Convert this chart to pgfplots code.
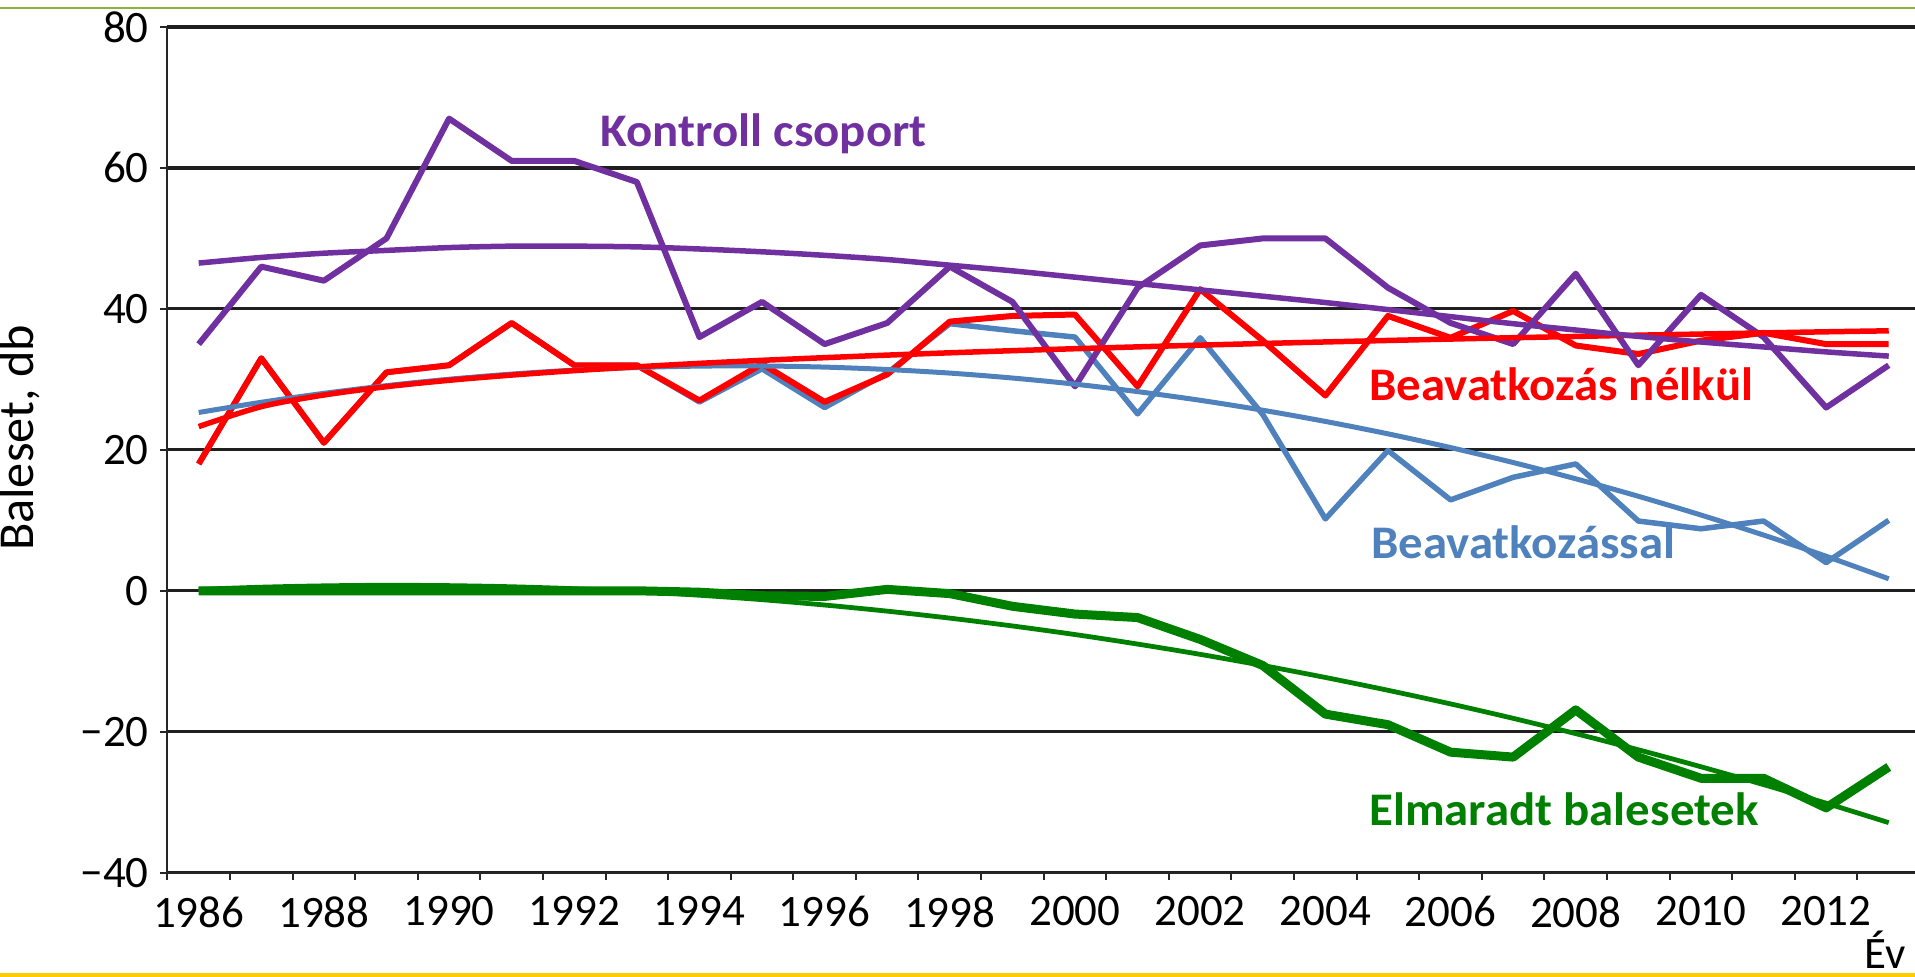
\documentclass[border=0pt]{standalone}
\usepackage{fontspec}
\setmainfont{Carlito}
\newfontfamily\labfont{Carlito}[FakeStretch=1.045]
\usepackage{pgfplots}
\usepackage{pgfplotstable}
\pgfplotsset{compat=1.18}
\definecolor{cpurple}{HTML}{7030A0}
\definecolor{cred}{HTML}{FF0000}
\definecolor{cblue}{HTML}{4F81BD}
\definecolor{cgreen}{HTML}{008000}
\definecolor{topgreen}{RGB}{141,180,58}
\definecolor{botyellow}{RGB}{255,204,0}

\pgfplotstableread{
year kontroll nelkul vele elmaradt
1986 35 18 18 0
1987 46 33 33 0
1988 44 21 21 0
1989 50 31 31 0
1990 67 32 32 0
1991 61 38 38 0
1992 61 32 32 0
1993 58 32 32 0
1994 36 27 26.8 -0.2
1995 41 32.2 31.5 -0.7
1996 35 26.8 26.0 -0.8
1997 38 30.7 30.9 0.2
1998 46 38.2 37.9 -0.4
1999 41 39.0 36.9 -2.2
2000 29 39.2 36.0 -3.3
2001 43 29.0 25.1 -3.8
2002 49 42.8 35.9 -6.9
2003 50 35.5 25.0 -10.6
2004 50 27.7 10.2 -17.5
2005 43 39.0 19.9 -19.0
2006 38 35.9 12.9 -22.9
2007 35 39.7 16.1 -23.6
2008 45 34.8 18.0 -16.9
2009 32 33.6 9.9 -23.6
2010 42 35.5 8.8 -26.6
2011 36 36.6 9.9 -26.6
2012 26 35.0 4.0 -30.8
2013 32 35.0 10.0 -25.0
}\datatable

\pgfplotstableread{
year kontroll nelkul vele elmaradt
1986 46.5 23.30 25.30 0.20
1987 47.3 26.13 26.75 0.51
1988 47.9 27.78 28.02 0.70
1989 48.3 28.96 29.11 0.78
1990 48.7 29.87 30.02 0.73
1991 48.9 30.61 30.75 0.57
1992 48.9 31.24 31.31 0.29
1993 48.8 31.78 31.68 -0.11
1994 48.5 32.27 31.88 -0.63
1995 48.1 32.70 31.90 -1.26
1996 47.6 33.08 31.74 -2.02
1997 47.0 33.44 31.40 -2.89
1998 46.2 33.77 30.89 -3.88
1999 45.4 34.07 30.19 -4.99
2000 44.5 34.35 29.32 -6.21
2001 43.6 34.61 28.26 -7.56
2002 42.7 34.86 27.03 -9.02
2003 41.8 35.09 25.62 -10.60
2004 40.9 35.31 24.03 -12.30
2005 39.9 35.52 22.27 -14.12
2006 38.9 35.72 20.32 -16.05
2007 37.9 35.91 18.20 -18.10
2008 37.0 36.09 15.89 -20.27
2009 36.1 36.27 13.41 -22.56
2010 35.3 36.43 10.75 -24.97
2011 34.6 36.59 7.91 -27.50
2012 33.9 36.75 4.90 -30.14
2013 33.3 36.89 1.70 -32.90
}\trendtable

\begin{document}
\begin{tikzpicture}
\useasboundingbox (0,0) rectangle (191.5mm,97.7mm);
\fill[topgreen] (0,96.77mm) rectangle (191.5mm,96.97mm);
\begin{axis}[
  at={(16.74mm,10.43mm)}, anchor=south west,
  scale only axis, width=174.76mm, height=84.57mm,
  xmin=1985.5, xmax=2013.42, ymin=-40, ymax=80,
  axis x line*=bottom, axis y line*=left,
  axis line style={line width=0.2mm, black!85},
  ytick={-40,-20,0,20,40,60,80},
  yticklabels={−40,−20,0,20,40,60,80},
  xtick={1985.5,1986.5,...,2012.5},
  xticklabels={1986,,1988,,1990,,1992,,1994,,1996,,1998,,2000,,2002,,2004,,2006,,2008,,2010,,2012,},
  x tick label as interval,
  tick align=outside,
  major tick length=0.7mm,
  tick style={line width=0.2mm, black!85},
  ymajorgrids,
  grid style={line width=0.32mm, black!88},
  tick label style={font=\fontsize{12.8}{14}\selectfont, text=black},
  yticklabel style={inner sep=0pt, xshift=-1.1mm},
  xticklabel style={inner sep=0pt, yshift=-1.6mm},
  line join=round,
]
\addplot[cblue, line width=0.55mm] table[x=year, y=vele] {\datatable};
\addplot[cred, line width=0.6mm] table[x=year, y=nelkul] {\datatable};
\addplot[cpurple, line width=0.6mm] table[x=year, y=kontroll] {\datatable};
\addplot[cgreen, line width=0.9mm] table[x=year, y=elmaradt] {\datatable};
\addplot[cblue, line width=0.5mm, smooth] table[x=year, y=vele] {\trendtable};
\addplot[cred, line width=0.55mm, smooth] table[x=year, y=nelkul] {\trendtable};
\addplot[cpurple, line width=0.55mm, smooth] table[x=year, y=kontroll] {\trendtable};
\addplot[cgreen, line width=0.48mm, smooth] table[x=year, y=elmaradt] {\trendtable};
\node[anchor=base west, inner sep=0, text=cpurple, font=\fontsize{13.3}{15}\labfont\bfseries] at (axis cs:1992.41,63.1) {Kontroll csoport};
\node[anchor=base west, inner sep=0, text=cred, font=\fontsize{13.3}{15}\labfont\bfseries] at (axis cs:2004.69,26.95) {Beavatkozás nélkül};
\node[anchor=base west, inner sep=0, text=cblue, font=\fontsize{13.3}{15}\labfont\bfseries] at (axis cs:2004.72,4.54) {Beavatkozással};
\node[anchor=base west, inner sep=0, text=cgreen, font=\fontsize{13.3}{15}\labfont\bfseries] at (axis cs:2004.69,-33.33) {Elmaradt balesetek};
\end{axis}
\node[rotate=90, font=\fontsize{14.3}{16}\selectfont] at (1.9mm,53.9mm) {Baleset, db};
\node[anchor=base east, inner sep=0, font=\fontsize{12.8}{14}\selectfont] at (190.6mm,0.8mm) {Év};
\fill[botyellow] (0,0) rectangle (191.5mm,0.4mm);
\end{tikzpicture}
\end{document}
